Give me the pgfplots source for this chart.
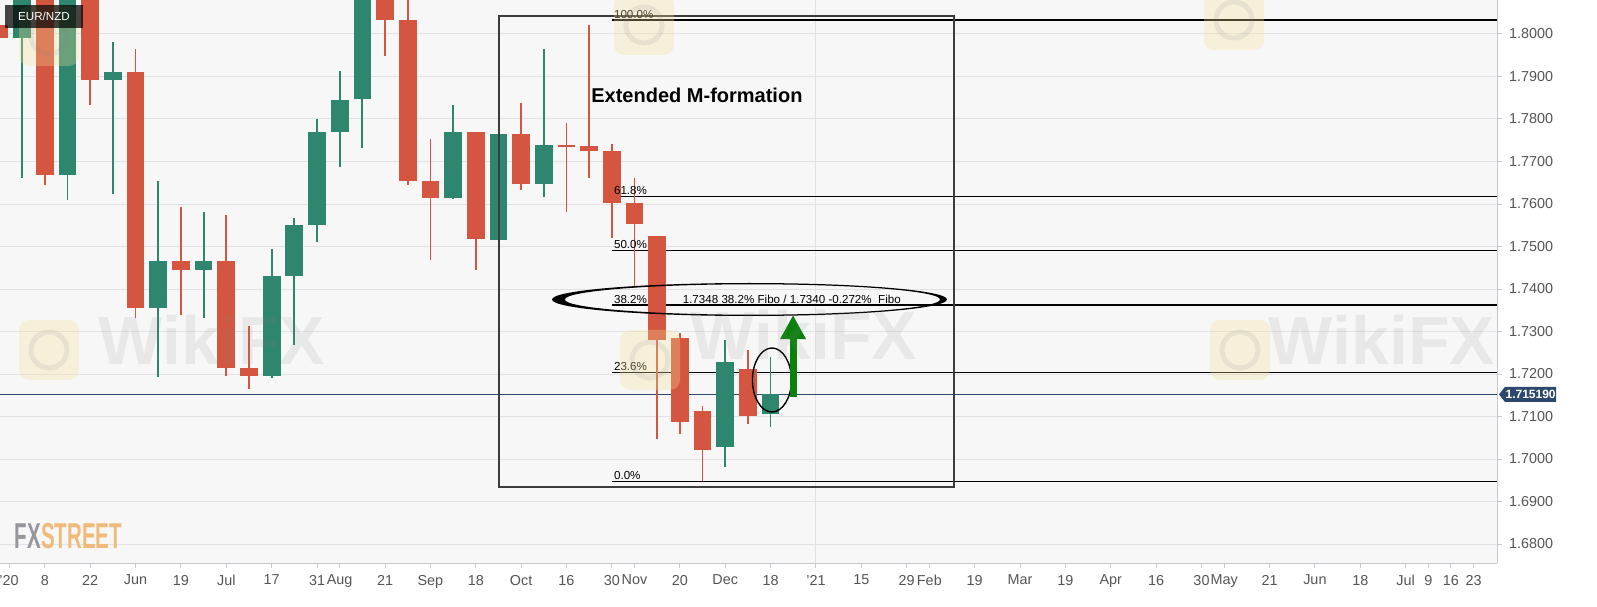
\documentclass[border=0pt]{standalone}
\usepackage{fontspec}
\setmainfont{Liberation Sans}
\usepackage{pgfplots}
\usepackage{pgfplotstable}
\pgfplotsset{compat=1.18}
\usetikzlibrary{arrows.meta}
\definecolor{cred}{RGB}{212,86,64}
\definecolor{cteal}{RGB}{46,134,111}
\definecolor{bg}{RGB}{247,247,248}
\definecolor{gridc}{RGB}{226,226,230}
\definecolor{axc}{RGB}{200,200,208}
\definecolor{navy}{RGB}{44,72,108}
\definecolor{tickc}{RGB}{85,85,85}
\definecolor{fxorange}{RGB}{240,186,122}
\definecolor{fxgray}{RGB}{150,150,156}
\definecolor{rectc}{RGB}{60,60,60}
\definecolor{arrowgreen}{RGB}{12,128,12}
\definecolor{logoy}{RGB}{245,222,150}

\pgfplotstableread{
n O H L C
0 1.80224 1.8120 1.78729 1.79915
2 1.8160 1.8190 1.76456 1.76687
4 1.8180 1.8210 1.78339 1.78918
6 1.79108 1.79647 1.73327 1.73548
8 1.74649 1.75941 1.73379 1.74449
10 1.74671 1.75748 1.71958 1.72151
11 1.72134 1.73127 1.71649 1.71958
17 1.8110 1.8140 1.79492 1.80339
18 1.80339 1.8120 1.76456 1.76532
19 1.76532 1.77532 1.74687 1.76132
21 1.77701 1.77701 1.74456 1.75165
23 1.77656 1.78372 1.76329 1.76461
25 1.77386 1.77911 1.75814 1.77360
26 1.77369 1.80207 1.76624 1.77254
27 1.77254 1.77409 1.75212 1.76021
28 1.76021 1.76614 1.74019 1.75520
29 1.75238 1.75238 1.70468 1.72802
30 1.72842 1.72965 1.70584 1.70875
31 1.71127 1.71242 1.69480 1.70224
33 1.72115 1.72574 1.70835 1.71012
}\redtab

\pgfplotstableread{
n O H L C
1 1.79901 1.8180 1.76612 1.8150
3 1.76687 1.8220 1.76087 1.8180
5 1.78918 1.79816 1.76240 1.79108
7 1.73548 1.76532 1.71918 1.74649
9 1.74449 1.75816 1.73318 1.74671
12 1.71958 1.74941 1.71896 1.74304
13 1.74304 1.75664 1.72673 1.75511
14 1.75511 1.78009 1.75111 1.77685
15 1.77694 1.79125 1.76878 1.78454
16 1.78471 1.8150 1.77325 1.8120
20 1.76132 1.78339 1.76120 1.77701
22 1.75153 1.78758 1.74904 1.77656
24 1.76461 1.79645 1.76160 1.77386
32 1.70285 1.72802 1.69819 1.72275
34 1.71049 1.72405 1.70744 1.71519
}\tealtab

\begin{document}
\begin{tikzpicture}
\begin{axis}[
  at={(0,0)}, anchor=south west, scale only axis,
  width=748.5pt, height=281.5pt,
  xmin=0.022, xmax=66.03, ymin=1.67553, ymax=1.808,
  axis background/.style={fill=bg},
  axis x line*=bottom, axis y line*=right,
  axis line style={-, draw=axc},
  tick align=outside, major tick length=2.5pt,
  tick style={draw=axc, line width=0.5pt},
  /pgf/number format/assume math mode=true,
  ytick={1.68,1.69,1.70,1.71,1.72,1.73,1.74,1.75,1.76,1.77,1.78,1.79,1.80},
  yticklabel style={/pgf/number format/fixed, /pgf/number format/fixed zerofill, /pgf/number format/precision=4},
  ymajorgrids, major grid style={draw=gridc, line width=0.5pt},
  ticklabel style={font=\fontsize{7.2}{8}\selectfont, text=tickc},
  xtick={0.42,2,4,6,8,10,12,14,15,17,19,21,23,25,27,28,30,32,34,36,38,40,41,43,45,47,49,51,53,54,56,58,60,62,63,64,65},
  xticklabels={'20,8,22,Jun,19,Jul,17,31,Aug,21,Sep,18,Oct,16,30,Nov,20,Dec,18,'21,15,29,Feb,19,Mar,19,Apr,16,30,May,21,Jun,18,Jul,9,16,23},
]
% vertical grid line at '21
\draw[gridc, line width=0.5pt] (axis cs:36,1.67553) -- (axis cs:36,1.808);
% Fibonacci levels
\draw[black, line width=0.6pt] (axis cs:27,1.80329) -- (axis cs:66.03,1.80329);
\draw[black, line width=0.6pt] (axis cs:27,1.76185) -- (axis cs:66.03,1.76185);
\draw[black, line width=0.6pt] (axis cs:27,1.74905) -- (axis cs:66.03,1.74905);
\draw[black, line width=0.6pt] (axis cs:27,1.73624) -- (axis cs:66.03,1.73624);
\draw[black, line width=0.6pt] (axis cs:27,1.72040) -- (axis cs:66.03,1.72040);
\draw[black, line width=0.6pt] (axis cs:27,1.69480) -- (axis cs:66.03,1.69480);
% current price line
\draw[navy, line width=0.5pt] (axis cs:0.022,1.71519) -- (axis cs:66.03,1.71519);

% red candles: wicks and bodies
\addplot[draw=none, mark=none, forget plot,
  error bars/.cd, y dir=both, y explicit, error mark=none,
  error bar style={draw=cred, line width=0.9pt}]
  table[x=n, y expr={(\thisrow{H}+\thisrow{L})/2}, y error expr={(\thisrow{H}-\thisrow{L})/2}] {\redtab};
\addplot[draw=none, mark=none, forget plot,
  error bars/.cd, y dir=both, y explicit, error mark=none,
  error bar style={draw=cred, line width=8.85pt}]
  table[x=n, y expr={(\thisrow{O}+\thisrow{C})/2}, y error expr={abs(\thisrow{O}-\thisrow{C})/2}] {\redtab};
% teal candles
\addplot[draw=none, mark=none, forget plot,
  error bars/.cd, y dir=both, y explicit, error mark=none,
  error bar style={draw=cteal, line width=0.9pt}]
  table[x=n, y expr={(\thisrow{H}+\thisrow{L})/2}, y error expr={(\thisrow{H}-\thisrow{L})/2}] {\tealtab};
\addplot[draw=none, mark=none, forget plot,
  error bars/.cd, y dir=both, y explicit, error mark=none,
  error bar style={draw=cteal, line width=8.85pt}]
  table[x=n, y expr={(\thisrow{O}+\thisrow{C})/2}, y error expr={abs(\thisrow{O}-\thisrow{C})/2}] {\tealtab};

% box around the formation
\draw[rectc, line width=0.7pt] (axis cs:22.02,1.69341) rectangle (axis cs:42.09,1.80424);
% ellipse around 38.2%
\fill[black, even odd rule] (axis cs:33.07,1.73753) ellipse [x radius=98.75pt, y radius=8.25pt]
  (axis cs:33.2,1.73753) ellipse [x radius=93.8pt, y radius=7.6pt];
% ellipse around last candle
\draw[black, line width=0.7pt] (axis cs:34.06,1.71859) ellipse [x radius=9.75pt, y radius=16pt];
% green arrow
\draw[arrowgreen, line width=3.5pt, -{Triangle[width=12pt,length=12pt]}] (axis cs:34.99,1.71459) -- (axis cs:34.99,1.73388);

% texts
\node[anchor=west, font=\fontsize{10}{12}\selectfont\bfseries, inner sep=0pt] at (axis cs:26.08,1.78565) {Extended M-formation};
\node[anchor=south west, font=\fontsize{5.8}{7}\selectfont, inner sep=0.7pt] at (axis cs:27.02,1.80329) {100.0\%};
\node[anchor=south west, font=\fontsize{5.8}{7}\selectfont, inner sep=0.7pt] at (axis cs:27.02,1.76185) {61.8\%};
\node[anchor=south west, font=\fontsize{5.8}{7}\selectfont, inner sep=0.7pt] at (axis cs:27.02,1.74905) {50.0\%};
\node[anchor=south west, font=\fontsize{5.8}{7}\selectfont, inner sep=0.7pt] at (axis cs:27.02,1.73624) {38.2\%};
\node[anchor=south west, font=\fontsize{5.8}{7}\selectfont, inner sep=0.7pt] at (axis cs:27.02,1.72040) {23.6\%};
\node[anchor=south west, font=\fontsize{5.8}{7}\selectfont, inner sep=0.7pt] at (axis cs:27.02,1.69480) {0.0\%};
\node[anchor=south west, font=\fontsize{5.8}{7}\selectfont, inner sep=0.7pt] at (axis cs:30.05,1.73624) {1.7348 38.2\% Fibo / 1.7340 -0.272\%\ \ Fibo};
\end{axis}

% watermarks
\begin{scope}
\clip (0,0) rectangle (748.5pt,281.5pt);
\foreach \lx/\ly in {24.5/106.5, 325/101.5, 620/106.5, 24.5/263.5, 322/269, 617/271.5}{
  \fill[logoy, opacity=0.3, rounded corners=5pt] (\lx pt-15pt,\ly pt-15pt) rectangle (\lx pt+15pt,\ly pt+15pt);
  \draw[gray, opacity=0.12, line width=2.5pt] (\lx pt,\ly pt) circle (9pt);
}
\end{scope}
\foreach \tx/\ty in {106/111.5, 402/114, 691/111.5}{
  \node[text=gray, opacity=0.12, font=\fontsize{34}{34}\selectfont\bfseries] at (\tx pt,\ty pt) {WikiFX};
}

% current price label
\fill[navy] (749.5pt,84.3pt) -- (752.5pt,88.1pt) -- (778pt,88.1pt) -- (778pt,80.5pt) -- (752.5pt,80.5pt) -- cycle;
\node[text=white, font=\fontsize{6}{7}\selectfont\bfseries, inner sep=0pt] at (765.3pt,84.3pt) {1.715190};

% EUR/NZD tag
\fill[black, opacity=0.72] (2.5pt,267.5pt) rectangle (41.5pt,279pt);
\node[text=white, font=\fontsize{5.8}{7}\selectfont, inner sep=0pt] at (22pt,273.25pt) {EUR/NZD};

% FXSTREET logo
\node[inner sep=0pt] at (34.25pt,13.25pt) {\scalebox{0.57}[1]{\fontsize{18}{18}\selectfont\bfseries\textcolor{fxgray}{FX}\textcolor{fxorange}{STREET}}};

\pgfresetboundingbox
\useasboundingbox (0,-21.5pt) rectangle (798.5pt,281.5pt);
\end{tikzpicture}
\end{document}
